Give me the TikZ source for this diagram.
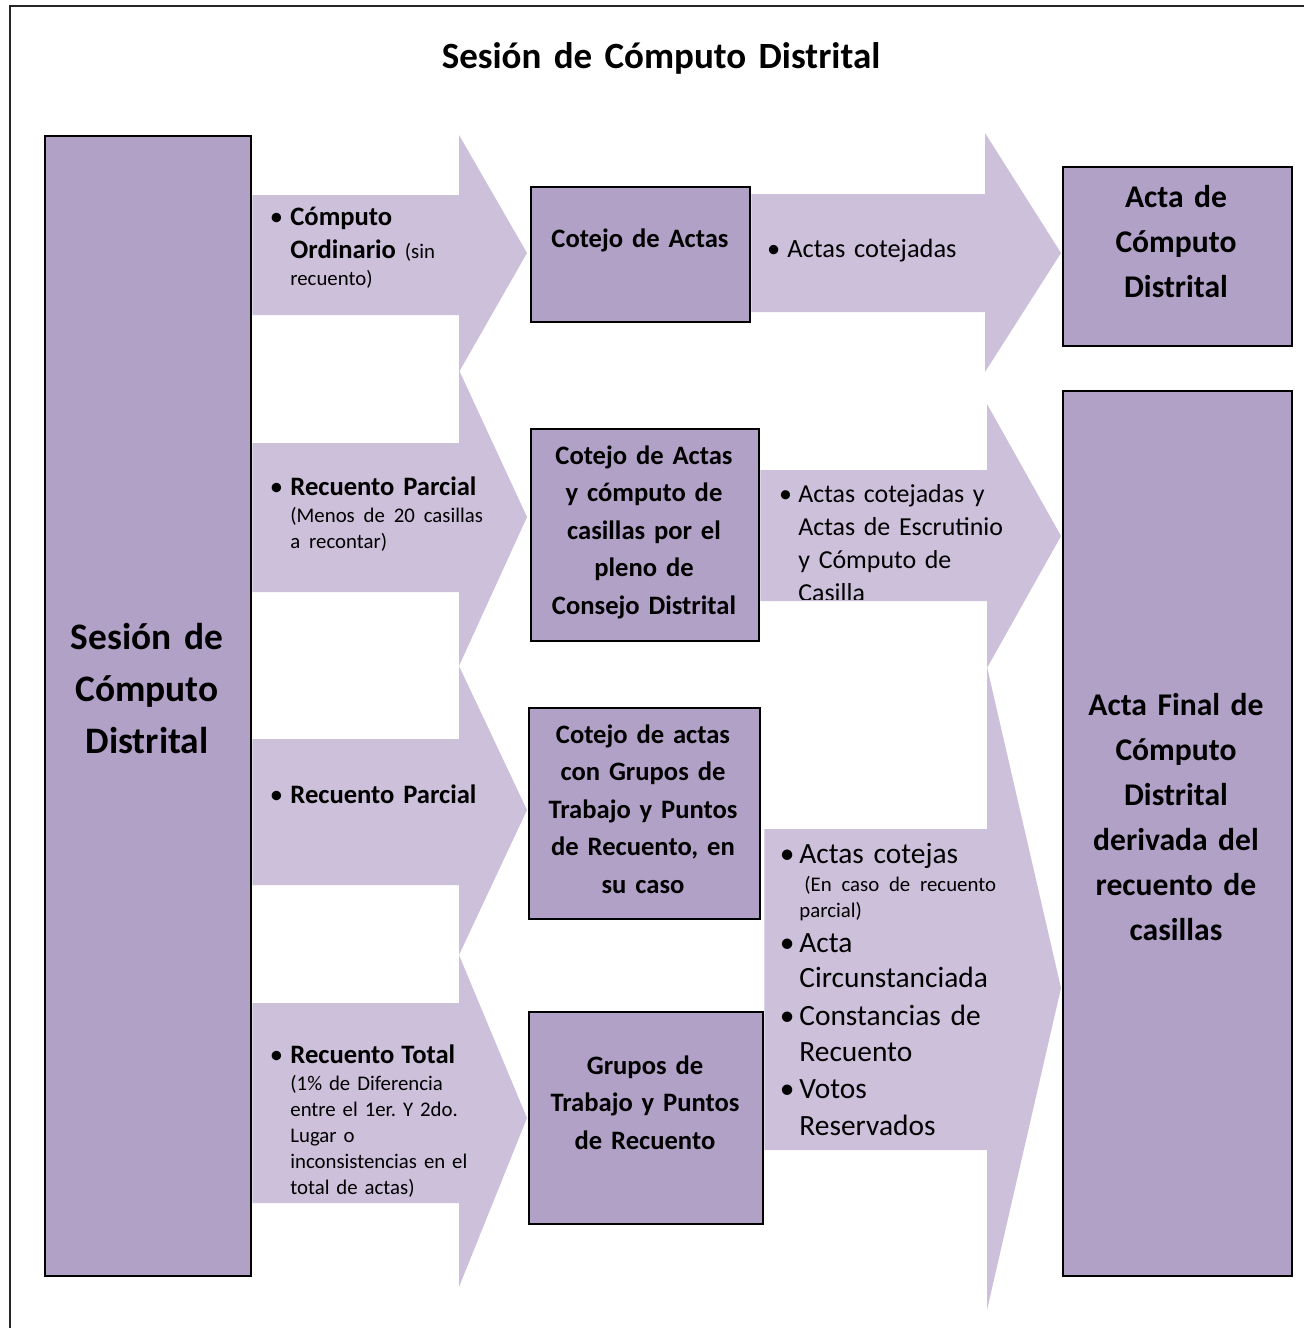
\documentclass[tikz,border=0pt]{standalone}
\usepackage{fontspec}
\setmainfont{Carlito}
\usepackage{tikz}
\usetikzlibrary{backgrounds}
\frenchspacing

\definecolor{lila}{HTML}{B2A1C7}
\definecolor{lilaclaro}{HTML}{CCC0DA}

\newcommand{\vin}[1][3.6pt]{\leavevmode\llap{•\hspace{#1}}}
\newcommand{\chica}{\fontsize{10.4}{13}\selectfont}

\tikzset{
  marco/.style={draw=black!85, line width=1.4pt},
  caja/.style={draw=black, line width=1.2pt, fill=lila, inner sep=0pt, anchor=north west},
  flecha/.style={fill=lilaclaro},
  textocaja/.style={inner sep=0pt, anchor=base, align=center, text width=#1},
  lista/.style={inner sep=0pt, anchor=base west, align=left, text width=#1},
  negrita/.style={font=\fontsize{13.3}{18.75}\selectfont\bfseries},
  normal/.style={font=\fontsize{13.3}{16.5}\selectfont},
}

\begin{document}
\begin{tikzpicture}[x=0.5pt, y=-0.5pt]
\useasboundingbox (0,0) rectangle (1304,1328);
\draw[marco] (10,1328) -- (10,6) -- (1304,6);
\node[textocaja=300pt, font=\fontsize{18.5}{24}\selectfont\bfseries] (titulo) at (661,68) {Sesión de Cómputo Distrital};
%
% cajas
\node[caja, minimum width=103pt, minimum height=570pt] (izq) at (44,135) {};
\node[caja, minimum width=109.5pt, minimum height=67.5pt] (cot1) at (530,186) {};
\node[caja, minimum width=114pt, minimum height=106pt] (cot2) at (530,428) {};
\node[caja, minimum width=115.5pt, minimum height=105.5pt] (cot3) at (528,707) {};
\node[caja, minimum width=117pt, minimum height=106pt] (grp) at (528,1011) {};
\node[caja, minimum width=114.5pt, minimum height=89.5pt] (acta) at (1062,166) {};
\node[caja, minimum width=114.5pt, minimum height=442.5pt] (final) at (1062,390) {};
%
\node[textocaja=100pt, font=\fontsize{18.7}{26}\selectfont\bfseries] (tizq) at (147,649) {Sesión de\\ Cómputo\\ Distrital};
\node[textocaja=105pt, negrita] (tcot1) at (640,247) {Cotejo de Actas};
\node[textocaja=105pt, negrita] (tcot2) at (644,464) {Cotejo de Actas\\ y cómputo de\\ casillas por el\\ pleno de\\ Consejo Distrital};
\node[textocaja=105pt, negrita] (tcot3) at (643,743) {Cotejo de actas\\ con Grupos de\\ Trabajo y Puntos\\ de Recuento, en\\ su caso};
\node[textocaja=105pt, negrita] (tgrp) at (645,1074) {Grupos de\\ Trabajo y Puntos\\ de Recuento};
\node[textocaja=110pt, font=\fontsize{15.8}{22.5}\selectfont\bfseries] (tacta) at (1176,207) {Acta de\\ Cómputo\\ Distrital};
\node[textocaja=110pt, font=\fontsize{15.8}{22.5}\selectfont\bfseries] (tfinal) at (1176,715) {Acta Final de\\ Cómputo\\ Distrital\\ derivada del\\ recuento de\\ casillas};
%
% flechas
\begin{scope}[on background layer]
\fill[flecha] (izq.east |- 0,195) -- (459,195) -- (459,135) -- (527,253) -- (459,372) -- (459,315) -- (izq.east |- 0,315) -- cycle;
\fill[flecha] (izq.east |- 0,443) -- (459,443) -- (459,370) -- (527,517) -- (459,666) -- (459,592) -- (izq.east |- 0,592) -- cycle;
\fill[flecha] (izq.east |- 0,739) -- (459,739) -- (459,666) -- (527,810) -- (459,955) -- (459,885) -- (izq.east |- 0,885) -- cycle;
\fill[flecha] (izq.east |- 0,1003) -- (459,1003) -- (459,955) -- (527,1118) -- (459,1287) -- (459,1203) -- (izq.east |- 0,1203) -- cycle;
%
\fill[flecha] (cot1.east |- 0,194) -- (985,194) -- (985,133) -- (1061,253) -- (985,372) -- (985,312) -- (cot1.east |- 0,312) -- cycle;
\fill[flecha] (cot2.east |- 0,470) -- (987,470) -- (987,404) -- (1061,536) -- (987,668) -- (987,601) -- (cot2.east |- 0,601) -- cycle;
\fill[flecha] (grp.east |- 0,829) -- (987,829) -- (987,667) -- (1061,988) -- (987,1310) -- (987,1150) -- (grp.east |- 0,1150) -- cycle;
\end{scope}
%
% textos de las flechas
\node[lista=105pt, normal] (ord) at (290,225) {\vin\textbf{Cómputo}\\ \textbf{Ordinario} {\chica (sin}\\[-3pt] {\chica recuento)}};
\node[lista=105pt, normal] (parc) at (290,495) {\vin\textbf{Recuento Parcial}\\[-3pt] {\chica (Menos de 20 casillas}\\[-3.5pt] {\chica a recontar)}};
\node[lista=105pt, normal] (parc2) at (290,803) {\vin\textbf{Recuento Parcial}};
\node[lista=105pt, font=\chica] (total) at (290,1063) {{\fontsize{13.3}{13}\selectfont\vin\textbf{Recuento Total}}\\[0.5pt] (1\% de Diferencia\\ entre el 1er. Y 2do.\\ Lugar o\\ inconsistencias en el\\ total de actas)};
%
\node[lista=110pt, font=\fontsize{13.2}{16.5}\selectfont] (sal1) at (787,257) {\vin Actas cotejadas};
\begin{scope}
\clip (cot2.east |- 0,470) rectangle (1061,599);
\node[lista=110pt, font=\fontsize{12.95}{16.6}\selectfont] (sal2) at (798,502) {\vin[3.2pt]Actas cotejadas y\\ Actas de Escrutinio\\ y Cómputo de\\ Casilla};
\end{scope}
\node[lista=110pt, font=\fontsize{14.7}{18}\selectfont] (sal3) at (799,863) {\vin[2.4pt]Actas cotejas\\[-4pt] {\chica\hspace*{2.5pt}(En caso de recuento}\\[-5pt] {\chica parcial)}\\[-0.5pt] \vin[2.4pt]Acta\\[-0.5pt] Circunstanciada\\[1pt] \vin[2.4pt]Constancias de\\ Recuento\\[0.5pt] \vin[2.4pt]Votos\\[0.5pt] Reservados};
\end{tikzpicture}
\end{document}
